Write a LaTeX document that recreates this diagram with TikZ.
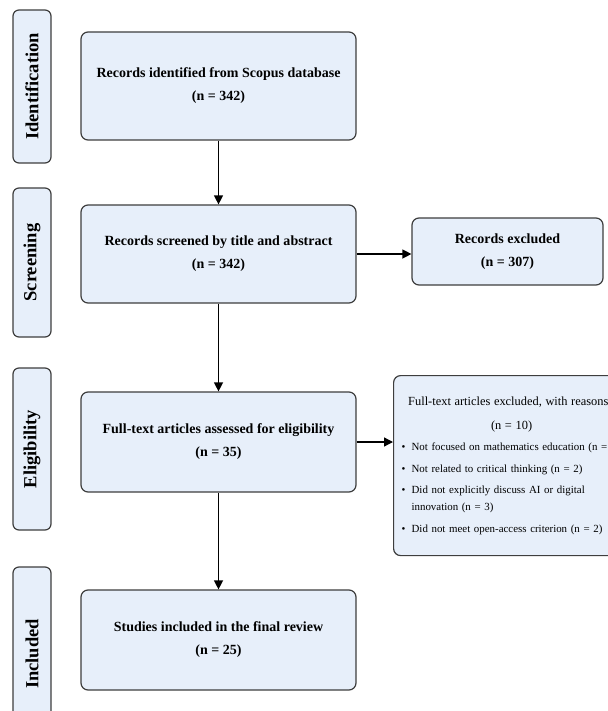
\documentclass[tikz,border=0pt]{standalone}
\usepackage{fontspec}
\setmainfont{Liberation Serif}
\usetikzlibrary{positioning,arrows.meta}
\usepackage{xcolor}
\definecolor{boxfill}{RGB}{231,239,250}
\definecolor{boxline}{RGB}{62,62,62}
\newcommand{\reason}[1]{\par\vspace{4.5pt}\hangindent=10pt\hangafter=1\noindent\makebox[10pt][l]{\textbullet}#1}

\begin{document}
\begin{tikzpicture}[x=1pt,y=-1pt,
    stage/.style={draw=boxline,fill=boxfill,line width=1.2pt,rounded corners=6pt,
        rotate=90,minimum height=38pt,font=\bfseries\fontsize{18.5}{18.5}\selectfont},
    mainbox/.style={draw=boxline,fill=boxfill,line width=1.2pt,rounded corners=7pt,
        minimum width=275pt,align=center,font=\bfseries\fontsize{14}{23}\selectfont},
    flow/.style={-{Triangle[length=9pt,width=9pt]},line width=1.3pt}]
    \useasboundingbox (0,0) rectangle (607,711);
    % phase tabs on the left
    \node[stage,minimum width=153pt] (tabid) at (32,86.5) {Identification};
    \node[stage,minimum width=149pt] (tabscr) at (32,262.5) {Screening};
    \node[stage,minimum width=162pt] (tabelig) at (32,449) {Eligibility};
    \node[stage,minimum width=174pt] (tabincl) at (32,654) {Included};
    % main flow
    \node[mainbox,minimum height=108pt] (ident) at (218.5,86) {Records identified from Scopus database\\(n = 342)};
    \node[mainbox,minimum height=98pt] (screen) at (218.5,254) {Records screened by title and abstract\\(n = 342)};
    \node[mainbox,minimum height=100pt] (elig) at (218.5,442) {Full-text articles assessed for eligibility\\(n = 35)};
    \node[mainbox,minimum height=100pt] (incl) at (218.5,640) {Studies included in the final review\\(n = 25)};
    % exclusions
    \node[mainbox,minimum width=191pt,minimum height=67pt] (recexcl) at (507.5,251.5) {Records excluded\\(n = 307)};
    \node[draw=boxline,fill=boxfill,line width=1.2pt,rounded corners=7pt,anchor=north west,
        text width=220pt,inner xsep=8pt,minimum height=180pt,align=left,
        font=\fontsize{10.9}{17}\selectfont] (ftexcl) at (393,375)
        {\hyphenpenalty=10000
        {\centering\fontsize{12.4}{24}\selectfont Full-text articles excluded, with reasons\newline(n = 10)\par}
        \reason{\mbox{Not focused on mathematics education (n = 3)}}
        \reason{Not related to critical thinking (n = 2)}
        \reason{Did not explicitly discuss AI or digital\newline innovation (n = 3)}
        \reason{Did not meet open-access criterion (n = 2)}};
    \draw[flow] (ident) -- (screen);
    \draw[flow] (screen) -- (elig);
    \draw[flow] (elig) -- (incl);
    \draw[flow] (screen.east) -- (screen.east -| recexcl.west);
    \draw[flow] (elig.east) -- (elig.east -| ftexcl.west);
\end{tikzpicture}
\end{document}
